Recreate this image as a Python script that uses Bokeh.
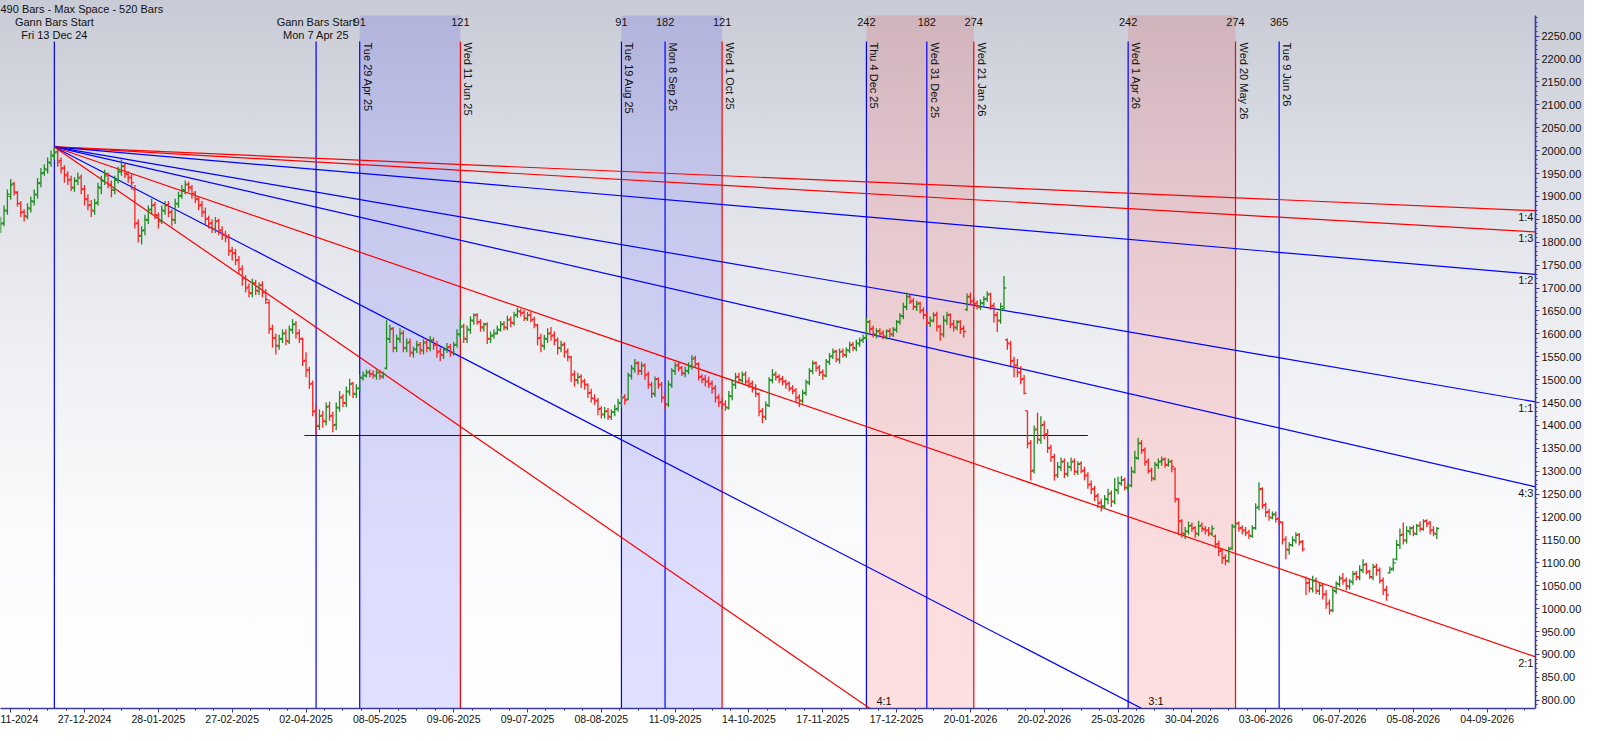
import math
from bokeh.plotting import figure
from bokeh.models import ColumnDataSource, Range1d, FixedTicker, SingleIntervalTicker, NumeralTickFormatter
from bokeh.core.properties import value
from bokeh.embed import file_html
from bokeh.resources import INLINE

# ---------------- data ----------------
first_bar = -16
opens = [
    1830, 1842, 1868, 1900, 1928, 1908, 1884, 1866, 1856, 1873,
    1888, 1903, 1928, 1952, 1958, 1973, 1988, 1998, 1978, 1962,
    1948, 1937, 1918, 1933, 1942, 1917, 1893, 1882, 1868, 1887,
    1918, 1933, 1948, 1927, 1913, 1937, 1953, 1967, 1948, 1942,
    1915, 1842, 1813, 1827, 1848, 1872, 1882, 1858, 1847, 1868,
    1882, 1867, 1848, 1883, 1902, 1913, 1927, 1918, 1907, 1893,
    1882, 1867, 1852, 1842, 1828, 1847, 1827, 1817, 1812, 1782,
    1777, 1762, 1742, 1722, 1702, 1688, 1712, 1693, 1707, 1692,
    1668, 1612, 1592, 1573, 1588, 1602, 1583, 1608, 1622, 1602,
    1588, 1542, 1522, 1492, 1432, 1398, 1422, 1408, 1442, 1422,
    1402, 1438, 1462, 1448, 1473, 1492, 1468, 1482, 1503, 1508,
    1517, 1513, 1508, 1516, 1506, 1525, 1588, 1612, 1568, 1588,
    1602, 1568, 1582, 1558, 1567, 1577, 1563, 1582, 1568, 1587,
    1577, 1562, 1553, 1567, 1572, 1558, 1577, 1598, 1617, 1588,
    1608, 1628, 1642, 1627, 1613, 1622, 1588, 1597, 1602, 1608,
    1622, 1613, 1632, 1623, 1642, 1648, 1647, 1633, 1642, 1632,
    1618, 1592, 1573, 1588, 1602, 1597, 1587, 1568, 1577, 1562,
    1548, 1512, 1498, 1507, 1497, 1488, 1472, 1458, 1453, 1437,
    1423, 1432, 1418, 1428, 1437, 1448, 1462, 1457, 1508, 1523,
    1537, 1518, 1532, 1512, 1488, 1468, 1502, 1488, 1462, 1447,
    1488, 1518, 1532, 1527, 1513, 1518, 1528, 1547, 1533, 1507,
    1502, 1497, 1492, 1482, 1462, 1452, 1447, 1438, 1463, 1488,
    1507, 1498, 1512, 1497, 1492, 1482, 1468, 1432, 1418, 1443,
    1498, 1512, 1507, 1502, 1497, 1492, 1482, 1477, 1462, 1453,
    1472, 1493, 1518, 1537, 1527, 1517, 1508, 1538, 1552, 1562,
    1543, 1562, 1553, 1563, 1577, 1568, 1578, 1587, 1592, 1627,
    1612, 1598, 1607, 1602, 1593, 1607, 1598, 1608, 1627, 1638,
    1658, 1682, 1672, 1658, 1667, 1652, 1642, 1623, 1628, 1642,
    1617, 1598, 1628, 1642, 1622, 1613, 1627, 1612, 1653, 1682,
    1672, 1667, 1658, 1666, 1677, 1687, 1662, 1642, 1628, 1655,
    1587, 1578, 1542, 1532, 1517, 1502, 1432, 1362, 1302, 1392,
    1368, 1402, 1382, 1352, 1332, 1292, 1308, 1322, 1293, 1308,
    1322, 1298, 1317, 1302, 1292, 1272, 1262, 1247, 1232, 1223,
    1238, 1252, 1233, 1258, 1273, 1282, 1263, 1268, 1298, 1328,
    1362, 1347, 1322, 1302, 1283, 1313, 1322, 1327, 1313, 1322,
    1305, 1238, 1192, 1163, 1168, 1182, 1177, 1163, 1182, 1173,
    1172, 1163, 1158, 1142, 1127, 1112, 1103, 1132, 1178, 1187,
    1177, 1172, 1167, 1158, 1177, 1222, 1262, 1227, 1212, 1198,
    1207, 1197, 1188, 1152, 1128, 1138, 1148, 1162, 1147, 1068,
    1057, 1043, 1062, 1038, 1052, 1032, 1012, 997, 1038, 1053,
    1067, 1062, 1048, 1058, 1077, 1068, 1083, 1097, 1082, 1068,
    1092, 1083, 1062, 1042, 1078, 1088, 1108, 1138, 1162, 1148,
    1168, 1177, 1163, 1182, 1173, 1192, 1187, 1172, 1162,
]
highs = [
    1855, 1880, 1915, 1938, 1932, 1912, 1890, 1872, 1885, 1900,
    1915, 1940, 1962, 1970, 1985, 2000, 2008, 2002, 1985, 1968,
    1955, 1945, 1942, 1952, 1948, 1925, 1905, 1892, 1895, 1930,
    1945, 1958, 1952, 1935, 1945, 1965, 1980, 1972, 1955, 1950,
    1925, 1850, 1835, 1860, 1880, 1895, 1888, 1865, 1880, 1890,
    1890, 1872, 1895, 1910, 1925, 1935, 1932, 1925, 1912, 1900,
    1890, 1875, 1858, 1850, 1855, 1852, 1835, 1825, 1818, 1790,
    1785, 1770, 1750, 1728, 1710, 1720, 1718, 1712, 1715, 1698,
    1675, 1620, 1600, 1598, 1610, 1610, 1618, 1632, 1628, 1610,
    1592, 1560, 1528, 1498, 1445, 1435, 1432, 1450, 1452, 1430,
    1450, 1475, 1468, 1485, 1502, 1495, 1490, 1510, 1518, 1522,
    1522, 1520, 1522, 1520, 1518, 1630, 1620, 1615, 1598, 1612,
    1608, 1590, 1590, 1572, 1585, 1582, 1588, 1590, 1595, 1592,
    1585, 1570, 1572, 1580, 1578, 1582, 1610, 1632, 1622, 1618,
    1638, 1645, 1645, 1632, 1625, 1625, 1605, 1610, 1618, 1628,
    1628, 1640, 1638, 1648, 1657, 1655, 1652, 1648, 1648, 1638,
    1622, 1600, 1598, 1612, 1615, 1605, 1592, 1585, 1582, 1568,
    1552, 1520, 1515, 1512, 1502, 1492, 1480, 1468, 1460, 1442,
    1440, 1438, 1435, 1445, 1458, 1470, 1468, 1515, 1532, 1545,
    1540, 1538, 1535, 1518, 1495, 1507, 1505, 1495, 1468, 1498,
    1525, 1538, 1540, 1530, 1528, 1538, 1553, 1552, 1538, 1512,
    1510, 1507, 1498, 1488, 1468, 1460, 1455, 1475, 1500, 1515,
    1515, 1518, 1518, 1505, 1498, 1490, 1472, 1438, 1452, 1505,
    1523, 1518, 1512, 1508, 1500, 1496, 1488, 1482, 1468, 1478,
    1500, 1525, 1542, 1540, 1532, 1522, 1545, 1558, 1568, 1565,
    1568, 1568, 1570, 1583, 1582, 1587, 1592, 1598, 1635, 1630,
    1618, 1612, 1612, 1608, 1610, 1612, 1615, 1630, 1645, 1668,
    1690, 1686, 1678, 1672, 1670, 1658, 1648, 1638, 1647, 1648,
    1620, 1640, 1648, 1645, 1630, 1630, 1630, 1618, 1688, 1690,
    1680, 1673, 1675, 1682, 1693, 1690, 1668, 1648, 1668, 1726,
    1590, 1585, 1550, 1545, 1530, 1510, 1432, 1368, 1400, 1428,
    1420, 1410, 1392, 1358, 1338, 1320, 1330, 1328, 1320, 1330,
    1328, 1322, 1322, 1310, 1298, 1280, 1268, 1252, 1240, 1248,
    1262, 1258, 1285, 1288, 1290, 1286, 1275, 1310, 1345, 1373,
    1368, 1352, 1328, 1308, 1320, 1328, 1332, 1330, 1328, 1325,
    1308, 1242, 1195, 1178, 1190, 1188, 1180, 1192, 1188, 1180,
    1178, 1182, 1162, 1148, 1132, 1118, 1135, 1185, 1192, 1190,
    1182, 1178, 1172, 1182, 1230, 1276, 1265, 1232, 1218, 1212,
    1212, 1200, 1190, 1158, 1145, 1158, 1167, 1165, 1150, 1070,
    1065, 1072, 1068, 1058, 1055, 1040, 1020, 1045, 1060, 1072,
    1078, 1068, 1065, 1082, 1082, 1095, 1108, 1100, 1085, 1098,
    1098, 1090, 1068, 1050, 1092, 1110, 1150, 1175, 1188, 1180,
    1180, 1182, 1185, 1190, 1195, 1195, 1192, 1180, 1178,
]
lows = [
    1820, 1835, 1860, 1893, 1902, 1878, 1855, 1845, 1850, 1865,
    1880, 1895, 1920, 1945, 1950, 1965, 1980, 1965, 1950, 1930,
    1925, 1912, 1910, 1925, 1905, 1880, 1870, 1855, 1860, 1880,
    1905, 1925, 1918, 1898, 1905, 1928, 1945, 1940, 1930, 1915,
    1830, 1800, 1795, 1815, 1840, 1860, 1850, 1830, 1840, 1860,
    1855, 1835, 1840, 1875, 1895, 1905, 1910, 1895, 1885, 1870,
    1855, 1840, 1830, 1820, 1820, 1815, 1805, 1800, 1770, 1760,
    1750, 1730, 1705, 1690, 1680, 1680, 1685, 1685, 1680, 1665,
    1600, 1570, 1555, 1565, 1580, 1575, 1578, 1600, 1590, 1580,
    1530, 1505, 1480, 1420, 1380, 1390, 1395, 1400, 1410, 1385,
    1390, 1430, 1440, 1440, 1465, 1460, 1460, 1475, 1498, 1505,
    1505, 1502, 1500, 1500, 1502, 1522, 1580, 1560, 1560, 1580,
    1560, 1560, 1550, 1548, 1558, 1555, 1555, 1560, 1562, 1565,
    1548, 1540, 1545, 1558, 1550, 1552, 1570, 1590, 1580, 1580,
    1600, 1620, 1620, 1605, 1605, 1578, 1580, 1590, 1598, 1605,
    1607, 1608, 1615, 1618, 1635, 1638, 1628, 1628, 1625, 1612,
    1575, 1560, 1565, 1580, 1585, 1575, 1555, 1560, 1548, 1540,
    1495, 1485, 1490, 1482, 1478, 1460, 1450, 1445, 1422, 1415,
    1415, 1412, 1412, 1420, 1430, 1440, 1445, 1455, 1500, 1515,
    1510, 1510, 1500, 1480, 1460, 1462, 1480, 1450, 1435, 1440,
    1482, 1510, 1518, 1508, 1505, 1512, 1522, 1528, 1498, 1492,
    1485, 1482, 1470, 1450, 1440, 1435, 1432, 1435, 1455, 1480,
    1492, 1492, 1488, 1482, 1472, 1462, 1420, 1405, 1412, 1440,
    1492, 1498, 1492, 1488, 1480, 1474, 1468, 1450, 1440, 1448,
    1465, 1488, 1512, 1518, 1508, 1500, 1505, 1532, 1545, 1538,
    1535, 1548, 1548, 1558, 1562, 1562, 1572, 1580, 1588, 1600,
    1592, 1590, 1592, 1588, 1588, 1592, 1593, 1603, 1620, 1632,
    1652, 1665, 1652, 1650, 1645, 1632, 1618, 1615, 1625, 1605,
    1585, 1592, 1620, 1612, 1605, 1608, 1600, 1592, 1650, 1662,
    1655, 1653, 1652, 1660, 1670, 1652, 1625, 1604, 1622, 1650,
    1565, 1530, 1505, 1505, 1490, 1468, 1350, 1280, 1295, 1360,
    1360, 1370, 1340, 1320, 1280, 1285, 1300, 1285, 1288, 1300,
    1292, 1292, 1295, 1280, 1262, 1250, 1235, 1220, 1212, 1218,
    1228, 1222, 1228, 1250, 1268, 1258, 1255, 1265, 1295, 1325,
    1338, 1312, 1295, 1278, 1280, 1305, 1312, 1308, 1310, 1298,
    1232, 1160, 1155, 1152, 1162, 1168, 1155, 1158, 1168, 1162,
    1158, 1158, 1132, 1115, 1098, 1095, 1100, 1128, 1172, 1168,
    1162, 1158, 1152, 1155, 1172, 1215, 1218, 1200, 1192, 1195,
    1188, 1182, 1140, 1108, 1118, 1135, 1142, 1138, 1125, 1030,
    1035, 1035, 1032, 1030, 1020, 1000, 987, 992, 1032, 1048,
    1052, 1040, 1042, 1052, 1062, 1062, 1078, 1075, 1065, 1062,
    1072, 1055, 1030, 1017, 1077, 1082, 1105, 1130, 1140, 1142,
    1160, 1158, 1160, 1168, 1170, 1178, 1162, 1158, 1152,
]
closes = [
    1840, 1870, 1905, 1925, 1910, 1885, 1865, 1858, 1875, 1890,
    1905, 1930, 1950, 1960, 1975, 1990, 1995, 1975, 1960, 1945,
    1935, 1920, 1935, 1940, 1915, 1895, 1880, 1870, 1885, 1920,
    1935, 1945, 1925, 1915, 1935, 1955, 1965, 1950, 1940, 1930,
    1840, 1815, 1825, 1850, 1870, 1880, 1860, 1845, 1870, 1880,
    1865, 1850, 1885, 1900, 1915, 1925, 1920, 1905, 1895, 1880,
    1865, 1850, 1840, 1830, 1845, 1825, 1815, 1810, 1780, 1775,
    1760, 1740, 1720, 1700, 1690, 1710, 1695, 1705, 1690, 1675,
    1610, 1590, 1575, 1590, 1600, 1585, 1610, 1620, 1600, 1590,
    1540, 1520, 1490, 1430, 1400, 1420, 1410, 1440, 1420, 1400,
    1440, 1460, 1450, 1475, 1490, 1470, 1480, 1505, 1510, 1515,
    1512, 1510, 1515, 1508, 1512, 1590, 1610, 1570, 1590, 1600,
    1570, 1580, 1560, 1565, 1575, 1565, 1580, 1570, 1585, 1575,
    1560, 1555, 1565, 1570, 1560, 1575, 1600, 1615, 1590, 1610,
    1630, 1640, 1625, 1615, 1620, 1590, 1595, 1600, 1610, 1620,
    1615, 1630, 1625, 1640, 1650, 1645, 1635, 1640, 1630, 1620,
    1590, 1575, 1590, 1600, 1595, 1585, 1570, 1575, 1560, 1550,
    1510, 1500, 1505, 1495, 1490, 1470, 1460, 1455, 1435, 1425,
    1430, 1420, 1430, 1435, 1450, 1460, 1455, 1510, 1525, 1535,
    1520, 1530, 1510, 1490, 1470, 1500, 1490, 1460, 1445, 1490,
    1520, 1530, 1525, 1515, 1520, 1530, 1545, 1535, 1505, 1500,
    1495, 1490, 1480, 1460, 1450, 1445, 1440, 1465, 1490, 1505,
    1500, 1510, 1495, 1490, 1480, 1470, 1430, 1420, 1445, 1500,
    1510, 1505, 1500, 1495, 1490, 1480, 1475, 1460, 1455, 1470,
    1495, 1520, 1535, 1525, 1515, 1510, 1540, 1550, 1560, 1545,
    1560, 1555, 1565, 1575, 1570, 1580, 1585, 1590, 1625, 1610,
    1600, 1605, 1600, 1595, 1605, 1600, 1610, 1625, 1640, 1660,
    1680, 1670, 1660, 1665, 1650, 1640, 1625, 1630, 1640, 1615,
    1600, 1630, 1640, 1620, 1615, 1625, 1610, 1605, 1680, 1670,
    1665, 1660, 1668, 1675, 1685, 1660, 1640, 1630, 1660, 1700,
    1580, 1540, 1530, 1515, 1500, 1470, 1360, 1300, 1390, 1370,
    1400, 1380, 1350, 1330, 1290, 1310, 1320, 1295, 1310, 1320,
    1300, 1315, 1300, 1290, 1270, 1260, 1245, 1230, 1225, 1240,
    1250, 1235, 1260, 1275, 1280, 1265, 1270, 1300, 1330, 1360,
    1345, 1320, 1300, 1285, 1315, 1320, 1325, 1315, 1320, 1310,
    1240, 1190, 1165, 1170, 1180, 1175, 1165, 1180, 1175, 1170,
    1165, 1175, 1140, 1125, 1110, 1105, 1130, 1180, 1185, 1175,
    1170, 1165, 1160, 1175, 1220, 1260, 1225, 1210, 1200, 1205,
    1195, 1190, 1150, 1130, 1140, 1150, 1160, 1145, 1130, 1055,
    1045, 1060, 1040, 1050, 1030, 1010, 995, 1040, 1055, 1065,
    1060, 1050, 1060, 1075, 1070, 1085, 1095, 1080, 1070, 1090,
    1085, 1060, 1040, 1030, 1085, 1100, 1140, 1160, 1150, 1170,
    1175, 1165, 1180, 1175, 1190, 1185, 1170, 1165, 1175,
]

# Gann fan (origin at the high of 13 Dec 24)
fan_origin_bar = 0
fan_origin_price = 2008
fan_unit = 1.261  # price per bar for the 1:1 line
fan_names = ["1:4", "1:3", "1:2", "1:1", "4:3", "2:1", "3:1", "4:1"]
fan_mult = [1 / 4, 1 / 3, 1 / 2, 1.0, 4 / 3, 2.0, 3.0, 4.0]
fan_colors = ["#ff0000", "#ff0000", "#0000ff", "#0000ff", "#0000ff", "#ff0000", "#0000ff", "#ff0000"]

# Gann bar starts and cycle lines
start_bars = [0, 78]
start_dates = ["Fri 13 Dec 24", "Mon 7 Apr 25"]
cycle_bars = [91, 121, 169, 182, 199, 242, 260, 274, 320, 352, 365]
cycle_counts = ["91", "121", "91", "182", "121", "242", "182", "274", "242", "274", "365"]
cycle_dates = ["Tue 29 Apr 25", "Wed 11 Jun 25", "Tue 19 Aug 25", "Mon 8 Sep 25", "Wed 1 Oct 25",
               "Thu 4 Dec 25", "Wed 31 Dec 25", "Wed 21 Jan 26", "Wed 1 Apr 26", "Wed 20 May 26",
               "Tue 9 Jun 26"]
cycle_colors = ["#0000ff", "#ff0000", "#0000ff", "#0000ff", "#ff0000", "#0000ff", "#0000ff",
                "#ff0000", "#0000ff", "#ff0000", "#0000ff"]
band_start = [91, 169, 242, 320]
band_end = [121, 199, 274, 352]
band_colors = ["#0000ff", "#0000ff", "#ff0000", "#ff0000"]

support_level = 1378
support_from_bar = 74.5
support_to_bar = 308

x_tick_labels = ["11-2024", "27-12-2024", "28-01-2025", "27-02-2025", "02-04-2025", "08-05-2025",
                 "09-06-2025", "09-07-2025", "08-08-2025", "11-09-2025", "14-10-2025", "17-11-2025",
                 "17-12-2025", "20-01-2026", "20-02-2026", "25-03-2026", "30-04-2026", "03-06-2026",
                 "06-07-2026", "05-08-2026", "04-09-2026"]
header_text = "490 Bars -  Max Space - 520 Bars"

# ---------------- figure ----------------
X0, X1 = -16.05, 441.4
Y0, Y1 = 782, 2295
FONT = value("Liberation Sans")
TXT = "#111111"

p = figure(width=1584, height=725, x_range=Range1d(X0, X1), y_range=Range1d(Y0, Y1),
           y_axis_location="right", output_backend="svg", toolbar_location=None,
           min_border_left=0, min_border_top=0, min_border_bottom=0, min_border_right=0)
p.styles = {"background-image": "linear-gradient(to bottom, #c8cbd5 0%, #dfe1e8 25%, #eef0f3 50%, #fbfbfd 75%, #ffffff 100%)"}
p.border_fill_color = None
p.background_fill_color = None
p.outline_line_color = None
p.grid.visible = False

p.title.text = header_text
p.title.text_font = "Liberation Sans"
p.title.text_font_size = "11px"
p.title.text_font_style = "normal"
p.title.text_color = TXT
p.title.standoff = 1
p.title.offset = 0

# axes
axis_col = "#3a3a9e"
for ax in (p.xaxis[0], p.yaxis[0]):
    ax.axis_line_color = axis_col
    ax.axis_line_width = 1.6
    ax.major_tick_line_color = axis_col
    ax.minor_tick_line_color = axis_col
    ax.major_tick_in = 0
    ax.minor_tick_in = 0
    ax.major_tick_out = 4
    ax.minor_tick_out = 2
    ax.major_label_text_font = "Liberation Sans"
    ax.major_label_text_font_size = "11px"
    ax.major_label_text_color = TXT
    ax.major_label_standoff = 2
p.xaxis[0].major_label_text_font_size = "10.5px"

x_ticks = [-13 + 22 * k for k in range(len(x_tick_labels))]
x_minor = [t + 5.5 * j for t in x_ticks for j in range(-3, 4) if j != 0]
p.xaxis[0].ticker = FixedTicker(ticks=x_ticks, minor_ticks=x_minor)
p.xaxis[0].major_label_overrides = {t: lab for t, lab in zip(x_ticks, x_tick_labels)}
p.yaxis[0].ticker = SingleIntervalTicker(interval=50, num_minor_ticks=5)
p.yaxis[0].formatter = NumeralTickFormatter(format="0.00")

# shaded cycle bands
p.quad(left=band_start, right=band_end, bottom=Y0 - 50, top=Y1 + 50,
       fill_color=band_colors, fill_alpha=0.12, line_color=None)

# vertical lines
LINE_TOP = 2238
vx = start_bars + cycle_bars
vc = ["#0000ff", "#0000ff"] + cycle_colors
p.segment(x0=vx, y0=[LINE_TOP] * len(vx), x1=vx, y1=[Y0 - 50] * len(vx), line_color=vc, line_width=1.2)

# support line
p.segment(x0=[support_from_bar], y0=[support_level], x1=[support_to_bar], y1=[support_level],
          line_color="#0000ff", line_width=1.2)

# Gann fan
for name, m, col in zip(fan_names, fan_mult, fan_colors):
    slope = fan_unit * m
    p.line([fan_origin_bar, X1], [fan_origin_price, fan_origin_price - slope * (X1 - fan_origin_bar)],
           line_color=col, line_width=1.2)

# fan labels
lab_x, lab_y, lab_t = [], [], []
bot_x, bot_y, bot_t = [], [], []
for name, m in zip(fan_names, fan_mult):
    slope = fan_unit * m
    end_val = fan_origin_price - slope * (X1 - fan_origin_bar)
    if end_val > Y0:
        lab_x.append(X1 - 0.6)
        lab_y.append(end_val - 13)
        lab_t.append(name)
    else:
        cross = fan_origin_bar + (fan_origin_price - Y0) / slope
        bot_x.append(cross + 4.2)
        bot_y.append(Y0 + 17)
        bot_t.append(name)
p.text(x=lab_x, y=lab_y, text=lab_t, text_align="right", text_baseline="middle",
       text_font=FONT, text_font_size="11px", text_color=TXT)
p.text(x=bot_x, y=bot_y, text=bot_t, text_align="center", text_baseline="middle",
       text_font=FONT, text_font_size="11px", text_color=TXT)

# OHLC bars
bars = list(range(first_bar, first_bar + len(closes)))
cols = ["#1e8c1e" if c >= o else "#ff2020" for o, c in zip(opens, closes)]
src = ColumnDataSource(dict(x=bars, xl=[b - 0.7 for b in bars], xr=[b + 0.7 for b in bars],
                            o=opens, h=highs, l=lows, c=closes, col=cols))
p.segment(x0="x", y0="l", x1="x", y1="h", source=src, line_color="col", line_width=1.3)
p.segment(x0="xl", y0="o", x1="x", y1="o", source=src, line_color="col", line_width=1.3)
p.segment(x0="x", y0="c", x1="xr", y1="c", source=src, line_color="col", line_width=1.3)

# start labels
p.text(x=start_bars, y=[2281] * 2, text=["Gann Bars Start"] * 2, text_align="center",
       text_baseline="middle", text_font=FONT, text_font_size="11px", text_color=TXT)
p.text(x=start_bars, y=[2253] * 2, text=start_dates, text_align="center",
       text_baseline="middle", text_font=FONT, text_font_size="11px", text_color=TXT)
# cycle counts
p.text(x=cycle_bars, y=[2281] * len(cycle_bars), text=cycle_counts, text_align="center",
       text_baseline="middle", text_font=FONT, text_font_size="11px", text_color=TXT)
# rotated dates
p.text(x=cycle_bars, y=[LINE_TOP - 2] * len(cycle_bars), text=cycle_dates, angle=-math.pi / 2,
       text_align="left", text_baseline="bottom", x_offset=2,
       text_font=FONT, text_font_size="11px", text_color=TXT)

open("out.html", "w").write(file_html(p, INLINE))
